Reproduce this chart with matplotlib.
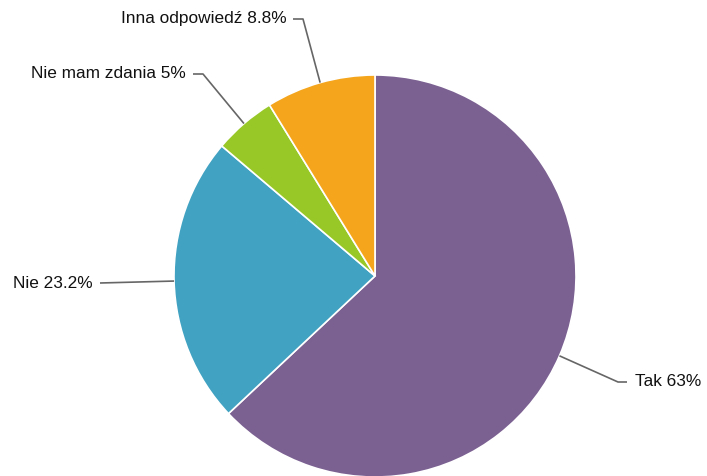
import matplotlib
matplotlib.use("Agg")
import matplotlib.pyplot as plt
import numpy as np

labels = ["Tak", "Nie", "Nie mam zdania", "Inna odpowiedź"]
values = [63, 23.2, 5, 8.8]
value_text = ["63%", "23.2%", "5%", "8.8%"]
colors = ["#7B6092", "#41A2C2", "#98C828", "#F4A51C"]

W, H = 707, 476
fig = plt.figure(figsize=(W / 100, H / 100), dpi=100)
ax = fig.add_axes([0, 0, 1, 1])
ax.set_xlim(0, W)
ax.set_ylim(0, H)
ax.set_aspect("equal")
ax.axis("off")

cx, cy, r = 375, H - 276, 201
wedges, _ = ax.pie(values, colors=colors, startangle=90, counterclock=False,
                   center=(cx, cy), radius=r, frame=True,
                   wedgeprops=dict(edgecolor="white", linewidth=1.2))
ax.set_xlim(0, W)
ax.set_ylim(0, H)
ax.axis("off")

# label layout: (elbow point in pixel coords from top, end x of horizontal, text x, side)
layout = [
    ((618, 382), 627, 635, "left"),
    ((100, 283), 100, 93, "right"),
    ((203, 74), 193, 186, "right"),
    ((303, 19), 293, 287, "right"),
]

for w, lab, vt, (elbow, endx, tx, ha) in zip(wedges, labels, value_text, layout):
    mid = np.deg2rad((w.theta1 + w.theta2) / 2)
    ex = cx + r * np.cos(mid)
    ey = cy + r * np.sin(mid)
    bx, by = elbow[0], H - elbow[1]
    ax.plot([ex, bx, endx], [ey, by, by], color="#666666", lw=1.2,
            solid_capstyle="butt", zorder=3)
    ax.text(tx, by, f"{lab} {vt}", ha=ha, va="center", fontsize=12.4,
            family=["Liberation Sans", "DejaVu Sans"], color="#111111")

fig.savefig("out.png", dpi=100, facecolor="white")
